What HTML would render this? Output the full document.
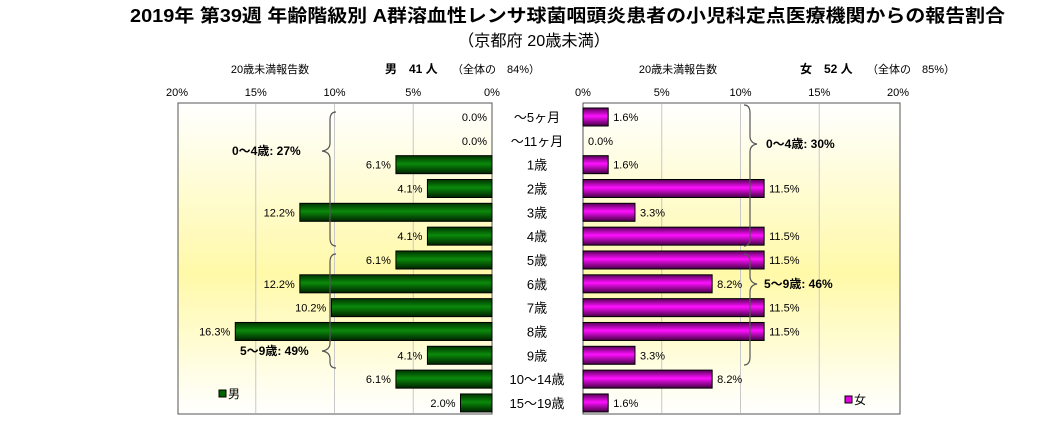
<!DOCTYPE html>
<html><head><meta charset="utf-8"><style>
body{margin:0;background:#fff;width:1059px;height:443px;overflow:hidden;font-family:"Liberation Sans","Noto Sans CJK JP",sans-serif}
</style></head><body>
<svg width="1059" height="443" xmlns="http://www.w3.org/2000/svg" style="font-family:'Liberation Sans','Noto Sans CJK JP',sans-serif">
<defs>
<linearGradient id="bg" x1="0" y1="0" x2="0" y2="1">
<stop offset="0" stop-color="#ffffff"/><stop offset="0.55" stop-color="#fff9a8"/><stop offset="1" stop-color="#ffffff"/></linearGradient>
<linearGradient id="gm" x1="0" y1="0" x2="0" y2="1">
<stop offset="0" stop-color="#003300"/><stop offset="0.45" stop-color="#0a8a0a"/><stop offset="1" stop-color="#002200"/></linearGradient>
<linearGradient id="gf" x1="0" y1="0" x2="0" y2="1">
<stop offset="0" stop-color="#550055"/><stop offset="0.45" stop-color="#ff10ff"/><stop offset="1" stop-color="#440044"/></linearGradient>
</defs>
<text x="130" y="22" font-size="18" font-weight="bold" textLength="875" lengthAdjust="spacingAndGlyphs">2019年 第39週 年齢階級別 A群溶血性レンサ球菌咽頭炎患者の小児科定点医療機関からの報告割合</text>
<text x="458" y="46" font-size="16" textLength="152" lengthAdjust="spacingAndGlyphs">（京都府 20歳未満）</text>
<text x="270" y="73" text-anchor="middle" font-size="11">20歳未満報告数</text>
<text x="385" y="73" font-size="12" font-weight="bold">男　41 人</text>
<text x="452" y="73" font-size="11">（全体の　84%）</text>
<text x="678" y="73" text-anchor="middle" font-size="11">20歳未満報告数</text>
<text x="800" y="73" font-size="12" font-weight="bold">女　52 人</text>
<text x="867" y="73" font-size="11">（全体の　85%）</text>
<rect x="178" y="103" width="314" height="311" fill="url(#bg)" stroke="#555"/>
<rect x="583" y="103" width="317" height="311" fill="url(#bg)" stroke="#555"/>
<g id="grid"></g><g id="bars"></g><g id="labels"></g>
<g fill="none" stroke="#555" stroke-width="1.2">
<path d="M336,112 Q330,112 330,120 L330,143 Q330,150 322,151 Q330,152 330,159 L330,238 Q330,246 336,246"/>
<path d="M336,254 Q330,254 330,262 L330,343 Q330,350 322,351 Q330,352 330,359 L330,362 Q330,368 336,368"/>
<path d="M744,105 Q750,105 750,113 L750,136 Q750,143 757,144 Q750,145 750,152 L750,238 Q750,246 744,246"/>
<path d="M744,254 Q750,254 750,262 L750,276 Q750,283 757,284 Q750,285 750,292 L750,357 Q750,365 744,365"/>
</g>
<g font-size="12" font-weight="bold">
<text x="232" y="155">0〜4歳: 27%</text>
<text x="240" y="355">5〜9歳: 49%</text>
<text x="766" y="148">0〜4歳: 30%</text>
<text x="764" y="288">5〜9歳: 46%</text>
</g>
<rect x="219" y="390" width="7" height="7" fill="#006400" stroke="#000"/>
<text x="228" y="398" font-size="12">男</text>
<rect x="845" y="396" width="7" height="7" fill="#e000e0" stroke="#000"/>
<text x="854" y="404" font-size="12">女</text>
</svg>
<script>
const categories=["〜5ヶ月","〜11ヶ月","1歳","2歳","3歳","4歳","5歳","6歳","7歳","8歳","9歳","10〜14歳","15〜19歳"];
const maleValues=[0,0,6.1,4.1,12.2,4.1,6.1,12.2,10.2,16.3,4.1,6.1,2.0];
const femaleValues=[1.6,0,1.6,11.5,3.3,11.5,11.5,8.2,11.5,11.5,3.3,8.2,1.6];
const tickValues=[0,5,10,15,20];
const NS="http://www.w3.org/2000/svg";
const L0=492,R0=583,PX=15.75;
const xL=v=>L0-v*PX, xR=v=>R0+v*PX;
const yC=i=>117+i*23.83;
function mk(tag,attrs,parent,txt){const e=document.createElementNS(NS,tag);for(const k in attrs)e.setAttribute(k,attrs[k]);if(txt!==undefined)e.textContent=txt;document.getElementById(parent).appendChild(e);return e;}
tickValues.forEach(t=>{
 if(t>0&&t<20){
  let g=mk('line',{x1:xL(t),x2:xL(t),y1:104,y2:413,stroke:'#c8c8c8'},'grid');
  
  
  g=mk('line',{x1:xR(t),x2:xR(t),y1:104,y2:413,stroke:'#c8c8c8'},'grid');
  
  
 }
 let a=mk('text',{x:xL(t),y:96,'text-anchor':'middle','font-size':11},'labels',t+'%');
 
 
 a=mk('text',{x:xR(t),y:96,'text-anchor':'middle','font-size':11},'labels',t+'%');
 
 
});
categories.forEach((c,i)=>{
 const y=yC(i),h=18;
 const c1=mk('text',{x:537,y:y+5,'text-anchor':'middle','font-size':13},'labels',c);
 
 
 const m=maleValues[i];
 if(m>0){const b=mk('rect',{x:xL(m),y:y-h/2,width:m*PX,height:h,fill:'url(#gm)',stroke:'#000'},'bars');
  
  }
 const ml=mk('text',{x:xL(m)-5,y:y+4,'text-anchor':'end','font-size':11},'labels',m.toFixed(1)+'%');
 
 
 const f=femaleValues[i];
 if(f>0){const b=mk('rect',{x:R0,y:y-h/2,width:f*PX,height:h,fill:'url(#gf)',stroke:'#000'},'bars');
  
  }
 const fl=mk('text',{x:xR(f)+5,y:y+4,'text-anchor':'start','font-size':11},'labels',f.toFixed(1)+'%');
 
 
});
</script>
</body></html>
